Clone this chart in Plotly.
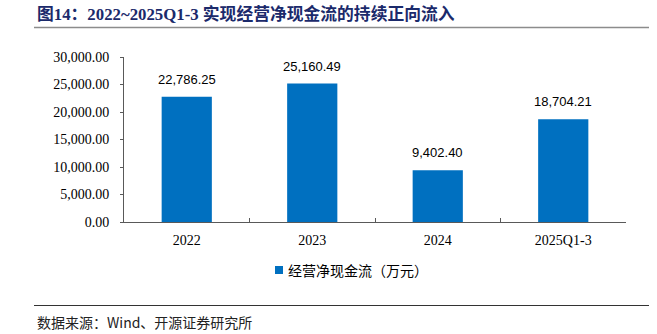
import plotly.graph_objects as go

# Operating net cash flow by period (unit: 10k CNY)
categories = ["2022", "2023", "2024", "2025Q1-3"]
cash_flow = [22786.25, 25160.49, 9402.40, 18704.21]
y_ticks = [0, 5000, 10000, 15000, 20000, 25000, 30000]
series_name = "经营净现金流（万元）"
title_text = "图14：2022~2025Q1-3 实现经营净现金流的持续正向流入"
source_text = "数据来源：Wind、开源证券研究所"

W, H = 657, 334
L, R, T, B = 124, 31, 57, 112
pw = W - L - R

def px_x(px):
    return (px - L) / pw

def px_y(py):
    ph = H - T - B
    return (H - B - py) / ph

serif = "Times New Roman, Liberation Serif, Noto Sans CJK SC, serif"
cjk = "Noto Sans CJK SC, sans-serif"
bar_color = "#0070C0"

fig = go.Figure()
fig.add_trace(go.Bar(
    x=categories, y=cash_flow, name=series_name,
    marker=dict(color=bar_color, line=dict(width=0)),
    width=0.4, showlegend=False,
))

# Value labels above each bar (category axis positions by index)
for i, v in enumerate(cash_flow):
    fig.add_annotation(
        x=i, y=v, text=f"{v:,.2f}", showarrow=False,
        yanchor="bottom", yshift=8,
        font=dict(family="Liberation Sans, Arial, sans-serif", size=13, color="#000000"),
    )

# Compact legend: small colour key followed by the series name
fig.add_shape(type="rect", xref="paper", yref="paper",
              x0=px_x(275), x1=px_x(283), y0=px_y(266), y1=px_y(274),
              fillcolor=bar_color, line=dict(width=0))
fig.add_annotation(
    xref="paper", yref="paper", x=px_x(286), y=px_y(270), xanchor="left", yanchor="middle",
    text=series_name, showarrow=False,
    font=dict(family=cjk, size=14, color="#000000"),
)

# Title, rules and source note
fig.add_annotation(
    xref="paper", yref="paper", x=px_x(35), y=px_y(14), xanchor="left", yanchor="middle",
    text=f"<b>{title_text}</b>", showarrow=False,
    font=dict(family=serif, size=16.8, color="#1B2A6B"),
)
fig.add_shape(type="line", xref="paper", yref="paper",
              x0=px_x(34), x1=px_x(649), y0=px_y(27.5), y1=px_y(27.5),
              line=dict(color="#8C8C8C", width=1.5))
fig.add_shape(type="line", xref="paper", yref="paper",
              x0=px_x(34), x1=px_x(649), y0=px_y(305.5), y1=px_y(305.5),
              line=dict(color="#333333", width=1))
fig.add_annotation(
    xref="paper", yref="paper", x=px_x(35), y=px_y(322), xanchor="left", yanchor="middle",
    text=source_text, showarrow=False,
    font=dict(family=cjk, size=14, color="#222222"),
)

fig.update_layout(
    width=W, height=H,
    margin=dict(l=L, r=R, t=T, b=B, pad=0),
    paper_bgcolor="white", plot_bgcolor="white",
    showlegend=False,
    xaxis=dict(
        type="category", categoryorder="array", categoryarray=categories,
        range=[-0.5, len(categories) - 0.5],
        showline=True, linecolor="#595959", linewidth=1,
        ticks="inside", tickson="boundaries", ticklen=4, tickcolor="#595959",
        tickfont=dict(family=serif, size=14, color="#000000"),
        ticklabelstandoff=5,
        showgrid=False, zeroline=False, tickangle=0,
    ),
    yaxis=dict(
        range=[0, 30000], tickvals=y_ticks, tickformat=",.2f",
        showline=True, linecolor="#595959", linewidth=1,
        ticks="outside", ticklen=3, tickcolor="#595959",
        tickfont=dict(family=serif, size=14, color="#000000"),
        ticklabelstandoff=8,
        showgrid=False, zeroline=False,
    ),
)

fig.write_html("out.html")
